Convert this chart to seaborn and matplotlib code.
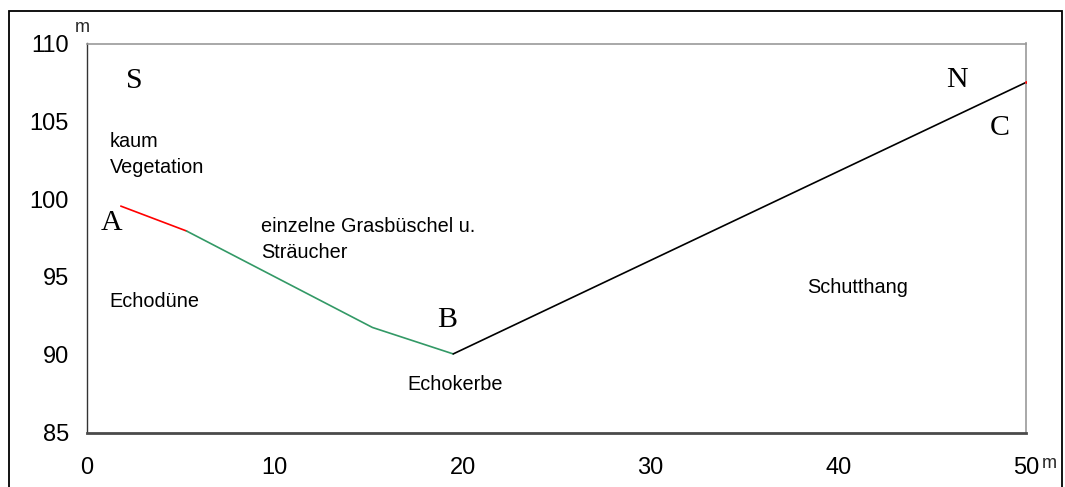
import matplotlib
matplotlib.use("Agg")
import matplotlib.pyplot as plt
import seaborn as sns
import pandas as pd
from matplotlib.patches import Rectangle

# ---- data ----
seg_red_x = [1.8, 5.3]
seg_red_y = [99.55, 97.95]
seg_green_x = [5.3, 15.2, 19.5]
seg_green_y = [97.95, 91.75, 90.05]
seg_black_x = [19.5, 50.0]
seg_black_y = [90.05, 107.5]
end_x = [50.0]
end_y = [107.5]

x_ticks = [0, 10, 20, 30, 40, 50]
y_ticks = [85, 90, 95, 100, 105, 110]

sans_labels = [
    ("kaum", 1.22, 103.35, "left"),
    ("Vegetation", 1.22, 101.68, "left"),
    ("einzelne Grasbüschel u.", 9.27, 97.89, "left"),
    ("Sträucher", 9.27, 96.21, "left"),
    ("Echodüne", 1.17, 93.07, "left"),
    ("Echokerbe", 17.04, 87.73, "left"),
    ("Schutthang", 38.34, 93.97, "left"),
]
serif_labels = [
    ("S", 2.50, 107.14),
    ("A", 1.33, 98.01),
    ("B", 19.17, 91.78),
    ("N", 46.33, 107.2),
    ("C", 48.62, 104.12),
]

df = pd.concat([
    pd.DataFrame({"x": seg_red_x, "y": seg_red_y, "seg": "red"}),
    pd.DataFrame({"x": seg_green_x, "y": seg_green_y, "seg": "green"}),
    pd.DataFrame({"x": seg_black_x, "y": seg_black_y, "seg": "black"}),
], ignore_index=True)

sns.set_theme(style="white")
plt.rcParams["font.family"] = ["Liberation Sans", "DejaVu Sans"]

fig = plt.figure(figsize=(10.65, 4.87), dpi=100)
ax = fig.add_axes([87 / 1065, 1 - 432.5 / 487, (1026 - 87) / 1065, (432.5 - 43.5) / 487])

palette = {"red": "#FF0000", "green": "#339966", "black": "#000000"}
sns.lineplot(data=df, x="x", y="y", hue="seg", units="seg", estimator=None,
             sort=False, palette=palette, linewidth=1.2, legend=False, ax=ax)
sns.scatterplot(x=end_x, y=end_y, color="#FF0000", s=4, linewidth=0, ax=ax, zorder=5)

ax.set_xlim(0, 50)
ax.set_ylim(85, 110)
ax.set_xticks(x_ticks)
ax.set_yticks(y_ticks)
ax.set_xticklabels([str(v) for v in x_ticks])
ax.set_yticklabels([str(v) for v in y_ticks])
ax.set_xlabel("")
ax.set_ylabel("")
ax.tick_params(axis="both", direction="out", length=6, width=1, colors="#333333",
               labelcolor="black", labelsize=17, pad=7)
ax.tick_params(axis="x", pad=12)

ax.spines["left"].set_color("#333333")
ax.spines["left"].set_linewidth(1.0)
ax.spines["bottom"].set_color("#4a4a4a")
ax.spines["bottom"].set_linewidth(2.0)
ax.spines["top"].set_color("#999999")
ax.spines["top"].set_linewidth(1.2)
ax.spines["right"].set_color("#999999")
ax.spines["right"].set_linewidth(1.2)
for s in ax.spines.values():
    s.set_visible(True)

for txt, x, y, ha in sans_labels:
    ax.text(x, y, txt, ha=ha, va="baseline", fontsize=14.3, color="black",
            family=["Liberation Sans", "DejaVu Sans"])
for txt, x, y in serif_labels:
    ax.text(x, y, txt, ha="center", va="baseline", fontsize=21.5, color="black",
            family=["Liberation Serif", "DejaVu Serif"])

# axis unit labels
fig.text(82 / 1065, 1 - 27 / 487, "m", ha="center", va="center", fontsize=13)
fig.text(1049 / 1065, 1 - 463 / 487, "m", ha="center", va="center", fontsize=13)

# outer chart frame
fig.patches.append(Rectangle((9 / 1065, -0.02), (1062 - 9) / 1065, 1 - 11 / 487 + 0.02,
                             transform=fig.transFigure, fill=False,
                             edgecolor="black", linewidth=1.3))

fig.savefig("out.png", dpi=100)
